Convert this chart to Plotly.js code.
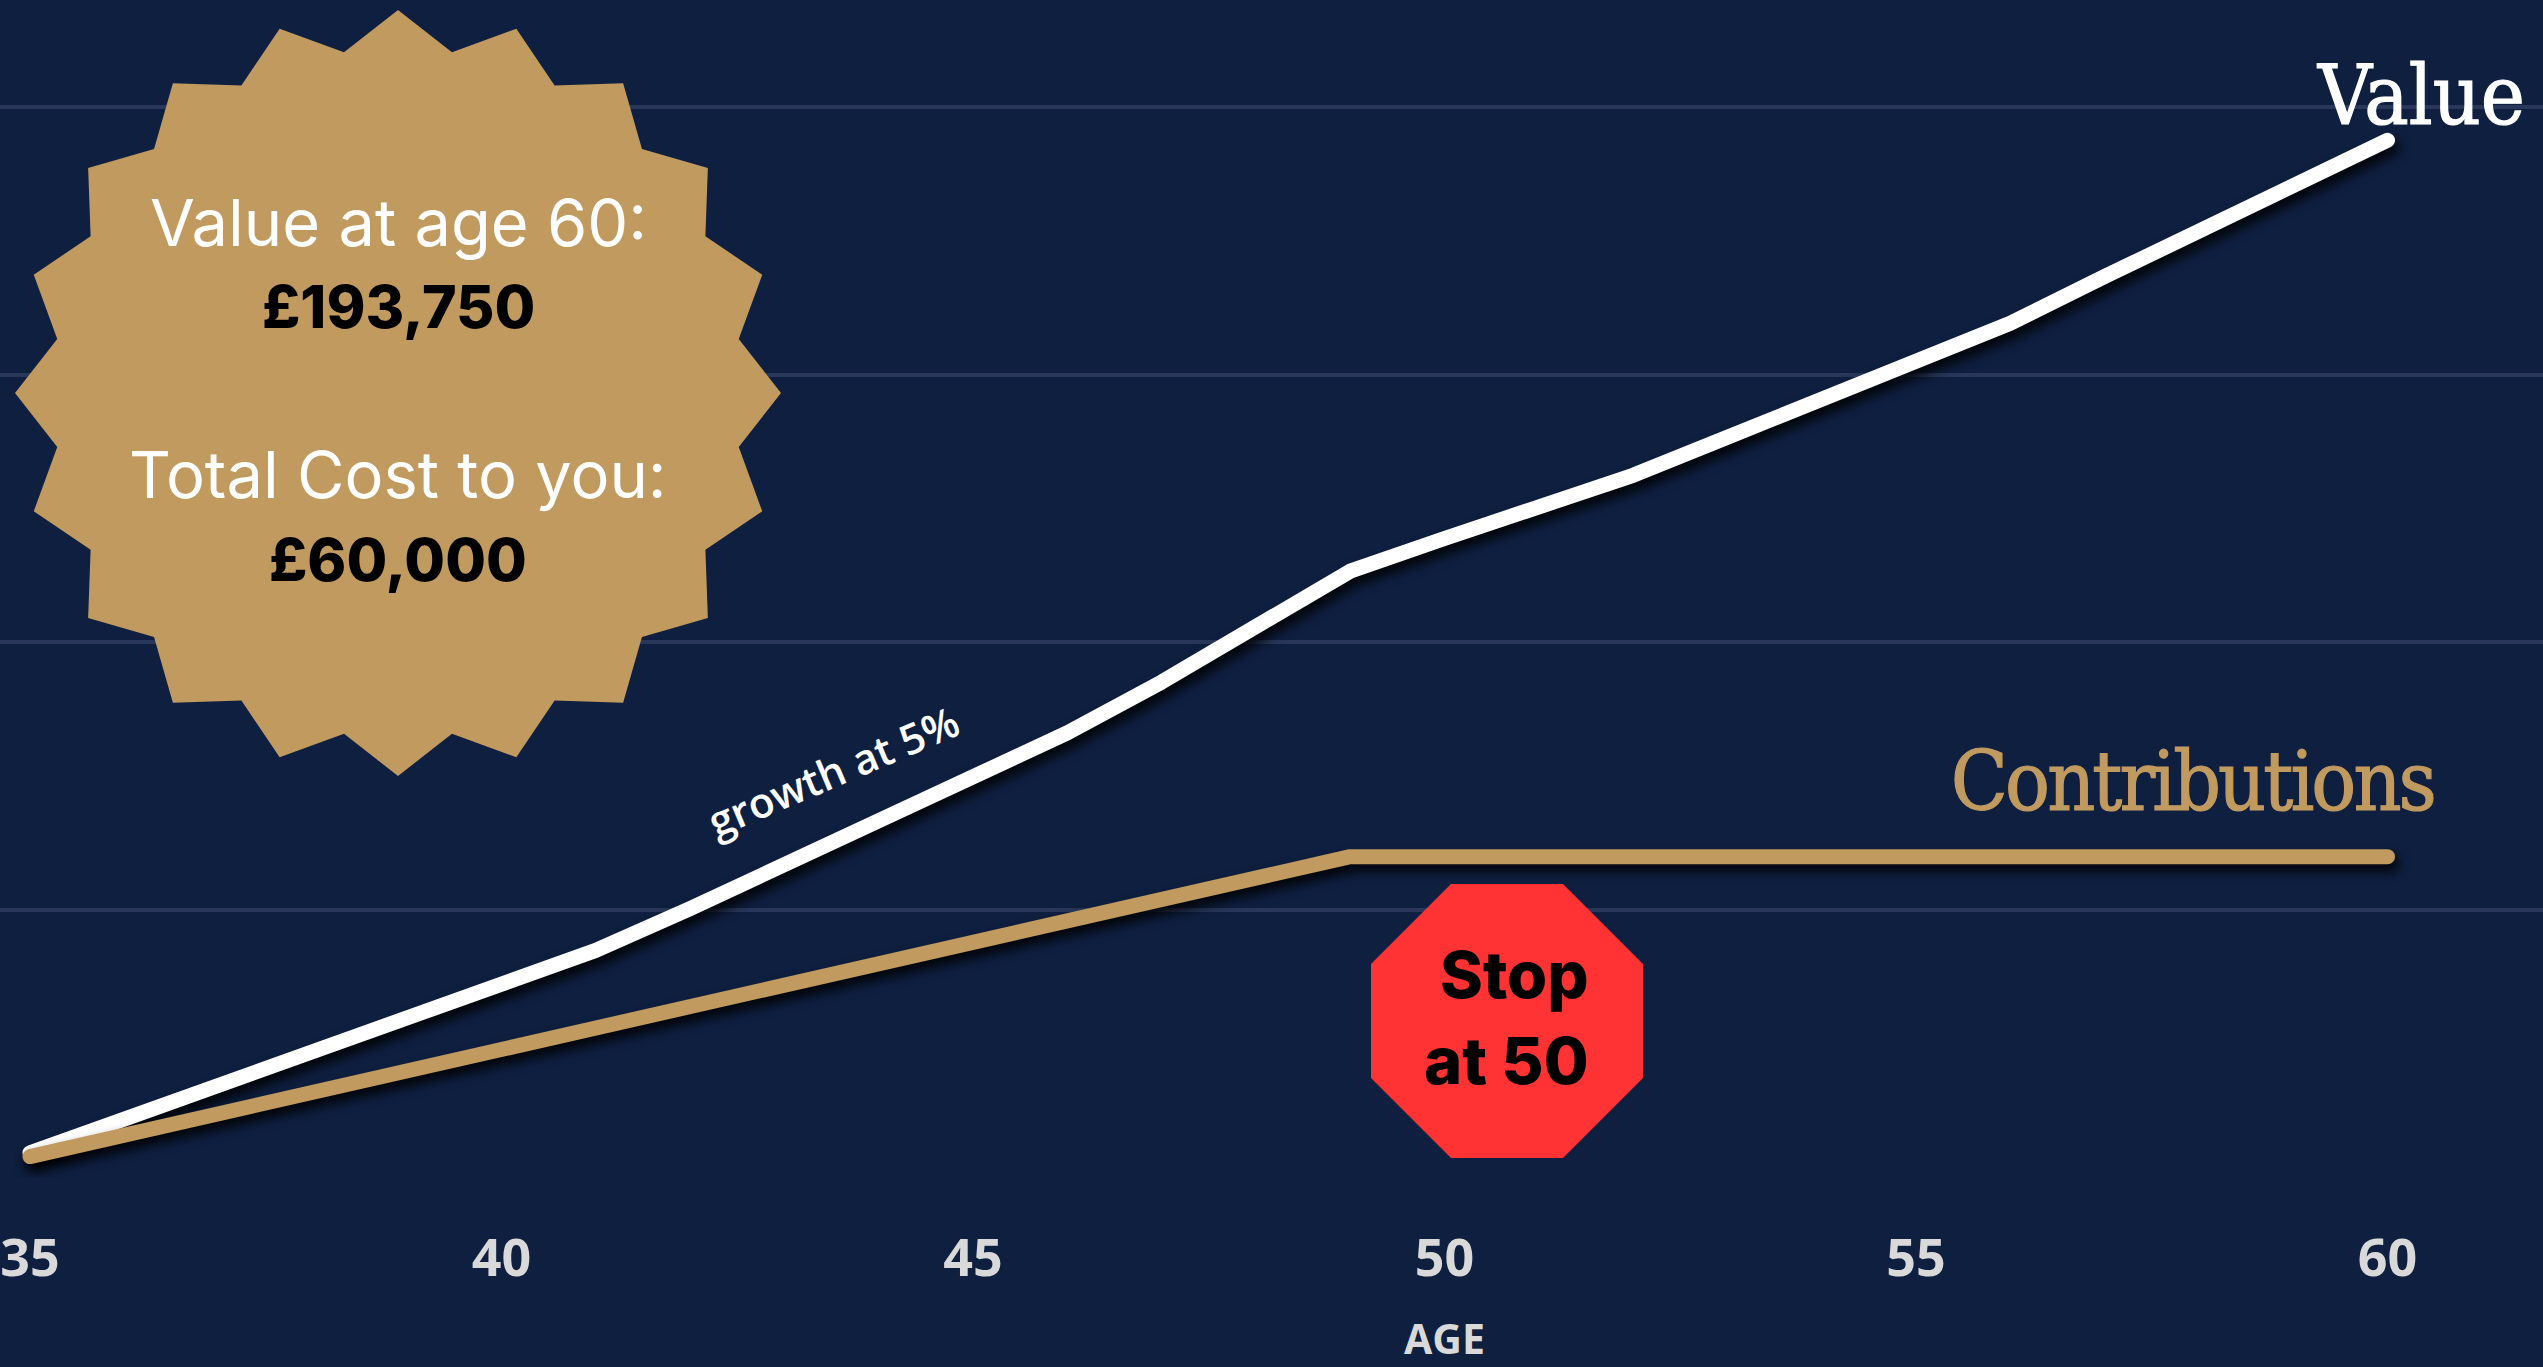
<!DOCTYPE html>
<html>
<head>
<meta charset="utf-8">
<title>Pension value by age</title>
<script src="https://cdn.plot.ly/plotly-3.0.1.min.js"></script>
<style>
  html, body { margin: 0; padding: 0; background: #0f1f40; overflow: hidden; }
  #chart { width: 2543px; height: 1367px; }
</style>
</head>
<body>
<div id="chart"></div>
<script>
// Series by age
const ages = [35, 36, 37, 38, 39, 40, 41, 42, 43, 44, 45, 46, 47, 48, 49, 50, 51, 52, 53, 54, 55, 56, 57, 58, 59, 60];
const portfolioValue = [4700, 11000, 17400, 23600, 29400, 35600, 42500, 50300, 58500, 66600, 74800, 83100, 92600,
  102800, 113300, 119400, 125300, 131200, 138300, 145500, 152500, 159600, 168300, 177000, 185400, 193750];
const contributions = [4000, 8000, 12000, 16000, 20000, 24000, 28000, 32000, 36000, 40000, 44000, 48000, 52000,
  56000, 60000, 60000, 60000, 60000, 60000, 60000, 60000, 60000, 60000, 60000, 60000, 60000];

// Axis ticks
const ageTicks = [35, 40, 45, 50, 55, 60];
const gridValues = [0, 50000, 100000, 150000, 200000];

// Palette
const NAVY = '#0f1f40', GOLD = '#c19a5f', RED = '#ff3333', GRID = '#28375a', TICK = '#d9d9d9';

// Page geometry in pixels
const W = 2543, H = 1367, BASELINE = 1178;
const px = x => x / W;
const py = y => (BASELINE - y) / BASELINE;

// Twenty-pointed badge
function starPath(cx, cy, outer, inner, points) {
  let d = '';
  for (let i = 0; i < points * 2; i++) {
    const r = i % 2 ? inner : outer;
    const a = Math.PI * i / points;
    d += (i ? 'L' : 'M') + px(cx + r * Math.sin(a)) + ',' + py(cy - r * Math.cos(a));
  }
  return d + 'Z';
}

// Octagonal stop sign
function octagonPath(left, right, top, bottom, cutX, cutY) {
  const pts = [[left + cutX, top], [right - cutX, top], [right, top + cutY], [right, bottom - cutY],
    [right - cutX, bottom], [left + cutX, bottom], [left, bottom - cutY], [left, top + cutY]];
  return pts.map((p, i) => (i ? 'L' : 'M') + px(p[0]) + ',' + py(p[1])).join('') + 'Z';
}

function label(text, x, y, font, extra) {
  return Object.assign({
    text, xref: 'paper', yref: 'paper', x: px(x), y: py(y),
    xanchor: 'center', yanchor: 'middle', showarrow: false, font
  }, extra || {});
}

const SANS = 'Inter, sans-serif';
const SLAB = '"DejaVu Serif Condensed", "DejaVu Serif", serif';
const HUMANIST = '"Open Sans", sans-serif';

const traces = [
  { name: 'Value', x: ages, y: portfolioValue, mode: 'lines', line: { color: '#ffffff', width: 15 } },
  { name: 'Contributions', x: ages, y: contributions, mode: 'lines', line: { color: GOLD, width: 15 } }
];

const layout = {
  width: W, height: H,
  paper_bgcolor: NAVY, plot_bgcolor: NAVY,
  showlegend: false,
  margin: { l: 0, r: 0, t: 0, b: H - BASELINE, pad: 0 },
  xaxis: {
    range: [35 - 30 / 94.3, 35 + (W - 30) / 94.3],
    tickmode: 'array', tickvals: ageTicks, ticktext: ageTicks.map(String),
    showgrid: false, zeroline: false, showline: false, ticks: '',
    ticklabelstandoff: 45, ticklabeloverflow: 'allow',
    tickfont: { family: HUMANIST, size: 52, color: TICK, weight: 700 }
  },
  yaxis: {
    range: [0, BASELINE / 0.005356],
    tickmode: 'array', tickvals: gridValues,
    showticklabels: false, ticks: '', zeroline: false, showline: false,
    showgrid: true, gridcolor: GRID, gridwidth: 4
  },
  shapes: [
    { type: 'path', xref: 'paper', yref: 'paper', path: starPath(398, 393, 383, 345, 20), fillcolor: GOLD, line: { width: 0 } },
    { type: 'path', xref: 'paper', yref: 'paper', path: octagonPath(1371, 1643, 884, 1158, 80, 80), fillcolor: RED, line: { width: 0 } }
  ],
  annotations: [
    label('Value at age 60:', 398, 223, { family: SANS, size: 65, color: '#ffffff', weight: 400 }),
    label('£193,750', 398, 307, { family: SANS, size: 59, color: '#000000', weight: 800 }),
    label('Total Cost to you:', 398, 474, { family: SANS, size: 65, color: '#ffffff', weight: 400 }),
    label('£60,000', 398, 559, { family: SANS, size: 59, color: '#000000', weight: 800 }),
    label('Stop', 1514, 974, { family: SANS, size: 65, color: '#000000', weight: 800 }),
    label('at 50', 1506, 1060, { family: SANS, size: 65, color: '#000000', weight: 800 }),
    label('Value', 2421, 96, { family: SLAB, size: 83, color: '#ffffff' }),
    label('Contributions', 2192, 781, { family: SLAB, size: 83, color: GOLD }),
    label('growth at 5%', 833, 770, { family: HUMANIST, size: 42, color: '#ffffff', weight: 600 }, { textangle: -23 }),
    label('AGE', 1444, 1338, { family: HUMANIST, size: 41, color: TICK, weight: 700 })
  ]
};

Plotly.newPlot('chart', traces, layout, { displayModeBar: false, staticPlot: true }).then(() => {
  // Soft drop shadow and rounded ends on the two lines
  document.querySelectorAll('.scatterlayer .js-line').forEach(path => {
    path.style.strokeLinecap = 'round';
    path.style.strokeLinejoin = 'round';
    path.style.filter = 'drop-shadow(4px 7px 6px rgba(0,0,0,0.9))';
  });
  // Heavier, tighter setting for the two series names
  document.querySelectorAll('.annotation-text').forEach(node => {
    const t = node.textContent;
    if (t === 'Value' || t === 'Contributions') {
      node.style.stroke = t === 'Value' ? '#ffffff' : GOLD;
      node.style.strokeWidth = '1.2px';
      if (t === 'Contributions') node.style.letterSpacing = '-2.9px';
    }
  });
});
</script>
</body>
</html>
